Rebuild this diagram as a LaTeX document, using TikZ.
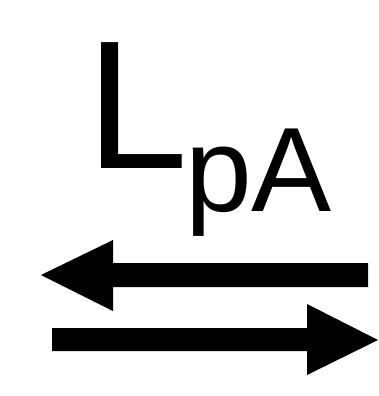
\documentclass[tikz,border=0pt]{standalone}
\usepackage{fontspec}
\setmainfont{Liberation Sans}
\begin{document}
\begin{tikzpicture}[x=1pt,y=-1pt,
  bigtxt/.style={anchor=base west,inner sep=0pt,outer sep=0pt,font=\fontsize{183}{183}\selectfont},
  subtxt/.style={anchor=base west,inner sep=0pt,outer sep=0pt,font=\fontsize{120}{120}\selectfont},
  arrowfill/.style={fill=black}]
\useasboundingbox (0,0) rectangle (378,396);
\node[bigtxt] (L) at (86.6,168) {L};
\node[subtxt] (pA) at (185,211) {pA};
% upper arrow (pointing left)
\coordinate (ua) at (41,275);
\fill[arrowfill] (ua) -- (113,240) -- (113,263) -- (368,263) -- (368,287) -- (113,287) -- (113,311) -- cycle;
% lower arrow (pointing right)
\coordinate (la) at (378,340);
\fill[arrowfill] (la) -- (307,304) -- (307,328) -- (52,328) -- (52,351) -- (307,351) -- (307,375) -- cycle;
\end{tikzpicture}
\end{document}
